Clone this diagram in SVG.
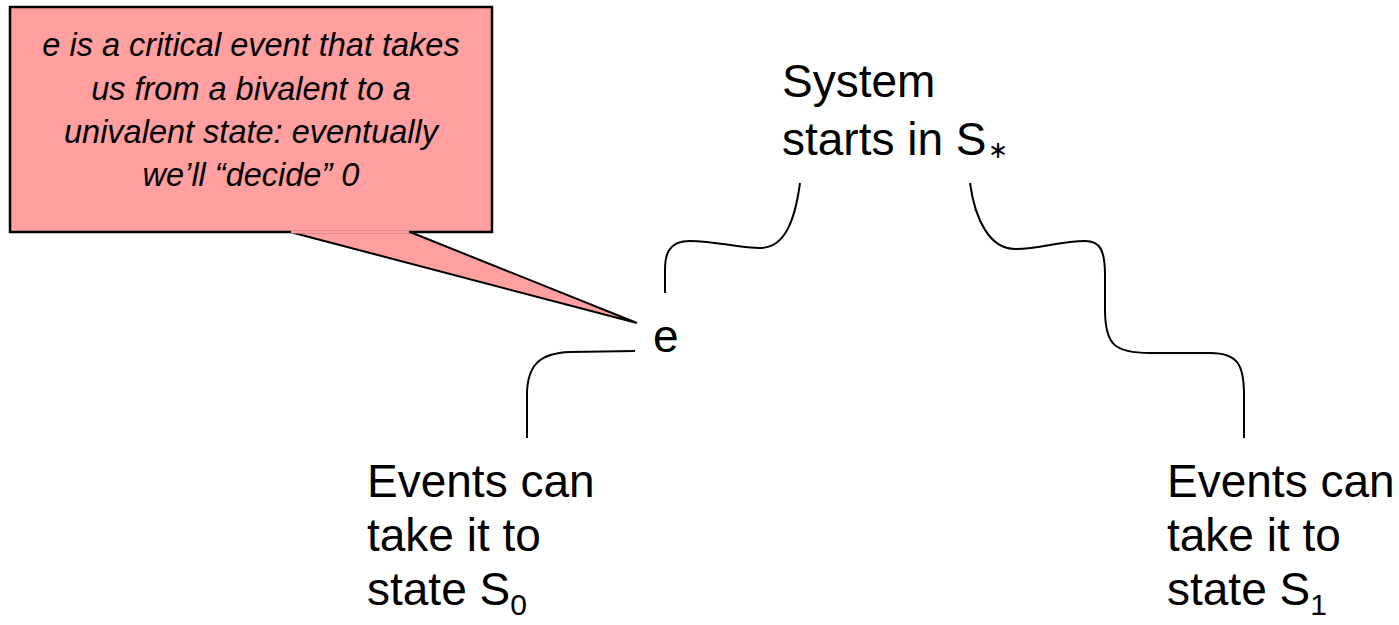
<svg xmlns="http://www.w3.org/2000/svg" width="1399" height="625" viewBox="0 0 1399 625">
<style>
.lbl{font-family:"Liberation Sans",Arial,sans-serif;font-size:46px;fill:#000}
.sub{font-size:30px}
.ast{font-size:24px}
.note{font-family:"Liberation Sans",Arial,sans-serif;font-size:32.5px;font-style:italic;fill:#000;text-anchor:middle}
.wire{fill:none;stroke:#000;stroke-width:2}
</style>
<rect width="1399" height="625" fill="#fff"/>
<g id="callout">
<path d="M10,7 H492 V232 H410 L637,323 L290,232 H10 Z" fill="#FF9F9F" stroke="none"/>
<rect x="10" y="7" width="482" height="225" fill="none" stroke="#000" stroke-width="2.5"/>
<path d="M290,232 L637,323 L410,232" fill="none" stroke="#000" stroke-width="2"/>
<line x1="291" y1="232" x2="409" y2="232" stroke="#FF9F9F" stroke-width="3"/>
<text class="note" x="251" y="56">e is a critical event that takes</text>
<text class="note" x="251" y="100">us from a bivalent to a</text>
<text class="note" x="251" y="143">univalent state: eventually</text>
<text class="note" x="251" y="186">we’ll “decide” 0</text>
</g>
<g id="connectors">
<path class="wire" d="M800,183 C795,220 785,248 760,248 C740,248 715,241 690,241 C668,241 665,255 665,270 L665,293"/>
<path class="wire" d="M970,183 C975,220 990,249 1015,249 C1040,249 1060,241 1085,241 C1100,241 1105,250 1105,275 L1105,310 C1105,345 1115,353 1150,353 L1210,353 C1238,353 1244,365 1244,395 L1244,438"/>
<path class="wire" d="M635,351 L570,352 C540,353 527,365 527,395 L527,438"/>
</g>
<g id="start">
<text class="lbl" x="782" y="97">System</text>
<text class="lbl" x="782" y="155">starts in S<tspan class="ast" dx="1" dy="3">∗</tspan></text>
</g>
<g id="e">
<text class="lbl" x="653" y="352">e</text>
</g>
<g id="s0">
<text class="lbl" x="367" y="497">Events can</text>
<text class="lbl" x="367" y="551">take it to</text>
<text class="lbl" x="367" y="605">state S<tspan class="sub" dy="10">0</tspan></text>
</g>
<g id="s1">
<text class="lbl" x="1167" y="497">Events can</text>
<text class="lbl" x="1167" y="551">take it to</text>
<text class="lbl" x="1167" y="605">state S<tspan class="sub" dy="10">1</tspan></text>
</g>
</svg>
